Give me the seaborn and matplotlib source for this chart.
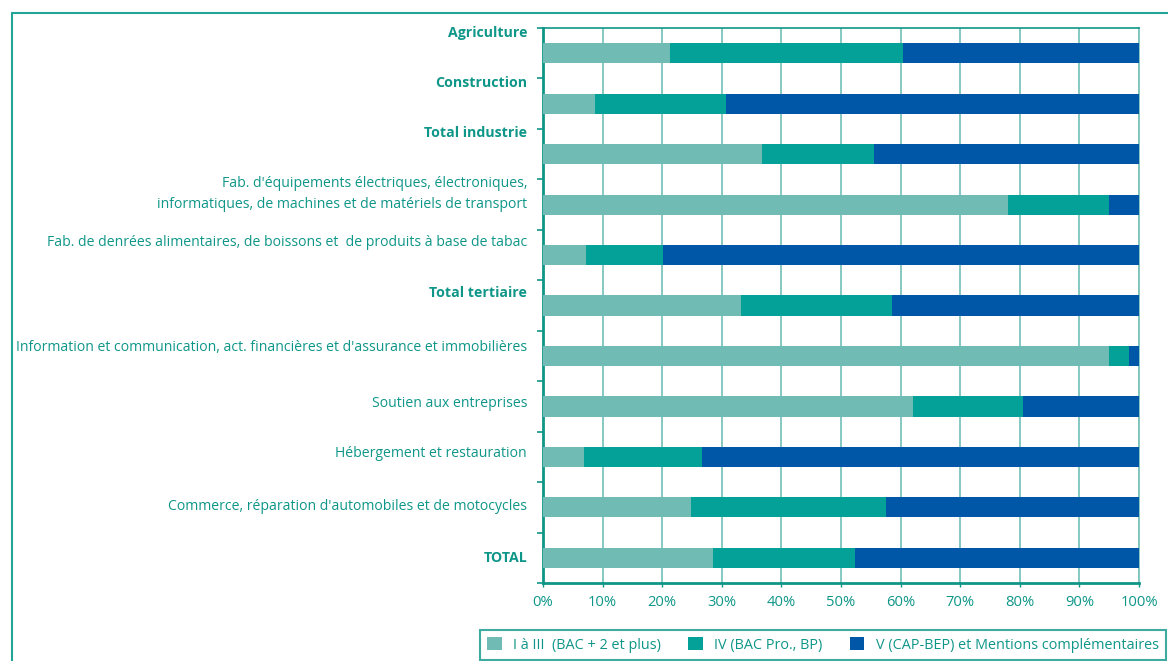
import numpy as np
import pandas as pd
import seaborn as sns
import matplotlib.pyplot as plt
from matplotlib.lines import Line2D
from matplotlib.patches import Patch

# sectors, top to bottom
sectors = [
    'Agriculture',
    'Construction',
    'Total industrie',
    "Fab. d'équipements électriques, électroniques,\ninformatiques, de machines et de matériels de transport",
    'Fab. de denrées alimentaires, de boissons et  de produits à base de tabac',
    'Total tertiaire',
    "Information et communication, act. financières et d'assurance et immobilières",
    'Soutien aux entreprises',
    'Hébergement et restauration',
    "Commerce, réparation d'automobiles et de motocycles",
    'TOTAL',
]
bold = ['Agriculture', 'Construction', 'Total industrie', 'Total tertiaire', 'TOTAL']

# share of each level, in %
lvl_I = [21.3, 8.7, 36.7, 78.1, 7.2, 33.2, 94.9, 62.0, 6.9, 24.8, 28.5]
lvl_IV = [39.1, 22.0, 18.8, 16.8, 12.9, 25.3, 3.5, 18.5, 19.8, 32.8, 23.8]
lvl_V = [39.6, 69.3, 44.5, 5.1, 79.9, 41.5, 1.6, 19.5, 73.3, 42.4, 47.7]

legend_labels = ['I à III  (BAC + 2 et plus)', 'IV (BAC Pro., BP)',
                 'V (CAP-BEP) et Mentions complémentaires']
colors = ['#70BCB5', '#04A198', '#0057A7']
teal = '#0E9688'
grid_col = '#7CC4BD'

df = pd.DataFrame({'sector': sectors, 'I': lvl_I, 'IV': lvl_IV, 'V': lvl_V})
df['cum_IV'] = df['I'] + df['IV']
df['cum_V'] = df['cum_IV'] + df['V']

sns.set_style('white')
plt.rcParams['font.family'] = ['Open Sans', 'DejaVu Sans']

fig = plt.figure(figsize=(11.68, 6.61), dpi=100)
ax = fig.add_axes([543 / 1168, 1 - 583 / 661, 596 / 1168, 555 / 661])

# stacked bars: draw cumulative totals from back to front
for col, c in zip(['cum_V', 'cum_IV', 'I'], colors[::-1]):
    sns.barplot(data=df, x=col, y='sector', color=c, width=0.4, orient='h',
                saturation=1, linewidth=0, ax=ax, zorder=3)

ax.set_xlim(0, 100)
ax.set_ylim(10.5, -0.5)
ax.set_xlabel('')
ax.set_ylabel('')
ax.set_xticks(np.arange(0, 101, 10))
ax.set_xticklabels([f'{v}%' for v in range(0, 101, 10)])
ax.xaxis.grid(True, color=grid_col, linewidth=1.3, zorder=0)
ax.set_axisbelow(True)

# category labels sit near the boundary ticks, like the original layout
offsets = [0.44, 0.44, 0.44, 0.31, 0.28, 0.28, 0.2, 0.1, 0.1, 0.06, 0.02]
ax.set_yticks([i - o for i, o in enumerate(offsets)])
ax.set_yticklabels(sectors)
ax.set_yticks(np.arange(-0.5, 11, 1), minor=True)
ax.tick_params(axis='y', which='major', left=True, length=0, pad=11.5,
               labelsize=10.1, labelcolor=teal)
ax.tick_params(axis='y', which='minor', left=True, length=4, width=1.2, color=teal)
ax.tick_params(axis='x', bottom=True, length=3, width=1, color=teal, pad=6,
               labelsize=10.6, labelcolor=teal)
for t in ax.get_yticklabels():
    t.set_linespacing(1.55)
    if t.get_text() in bold:
        t.set_fontweight('bold')
        t.set_fontsize(10.2)

for side in ['left', 'bottom']:
    ax.spines[side].set_color(teal)
    ax.spines[side].set_linewidth(2)
ax.spines['top'].set_color(teal)
ax.spines['top'].set_linewidth(1.2)
ax.spines['right'].set_color(grid_col)
ax.spines['right'].set_linewidth(1.3)

# outer frame (left and top edges visible)
fig.add_artist(Line2D([12 / 1168, 12 / 1168], [0, 1 - 13 / 661], color='#22A596',
                      linewidth=1.5, transform=fig.transFigure))
fig.add_artist(Line2D([12 / 1168, 1], [1 - 13 / 661, 1 - 13 / 661], color='#22A596',
                      linewidth=1.5, transform=fig.transFigure))

handles = [Patch(facecolor=c, edgecolor='none') for c in colors]
leg = fig.legend(handles, legend_labels, ncol=3, loc='lower left',
                 bbox_to_anchor=(480 / 1168, 1 / 661, 686 / 1168, 39 / 661),
                 mode='expand', frameon=True, fancybox=False, fontsize=10.4,
                 handlelength=1.0, handleheight=1.0, handletextpad=0.8,
                 columnspacing=1.2, borderpad=0.5, borderaxespad=0)
leg.get_frame().set_edgecolor(teal)
leg.get_frame().set_linewidth(1.5)
for t in leg.get_texts():
    t.set_color(teal)

fig.savefig('out.png', dpi=100)
